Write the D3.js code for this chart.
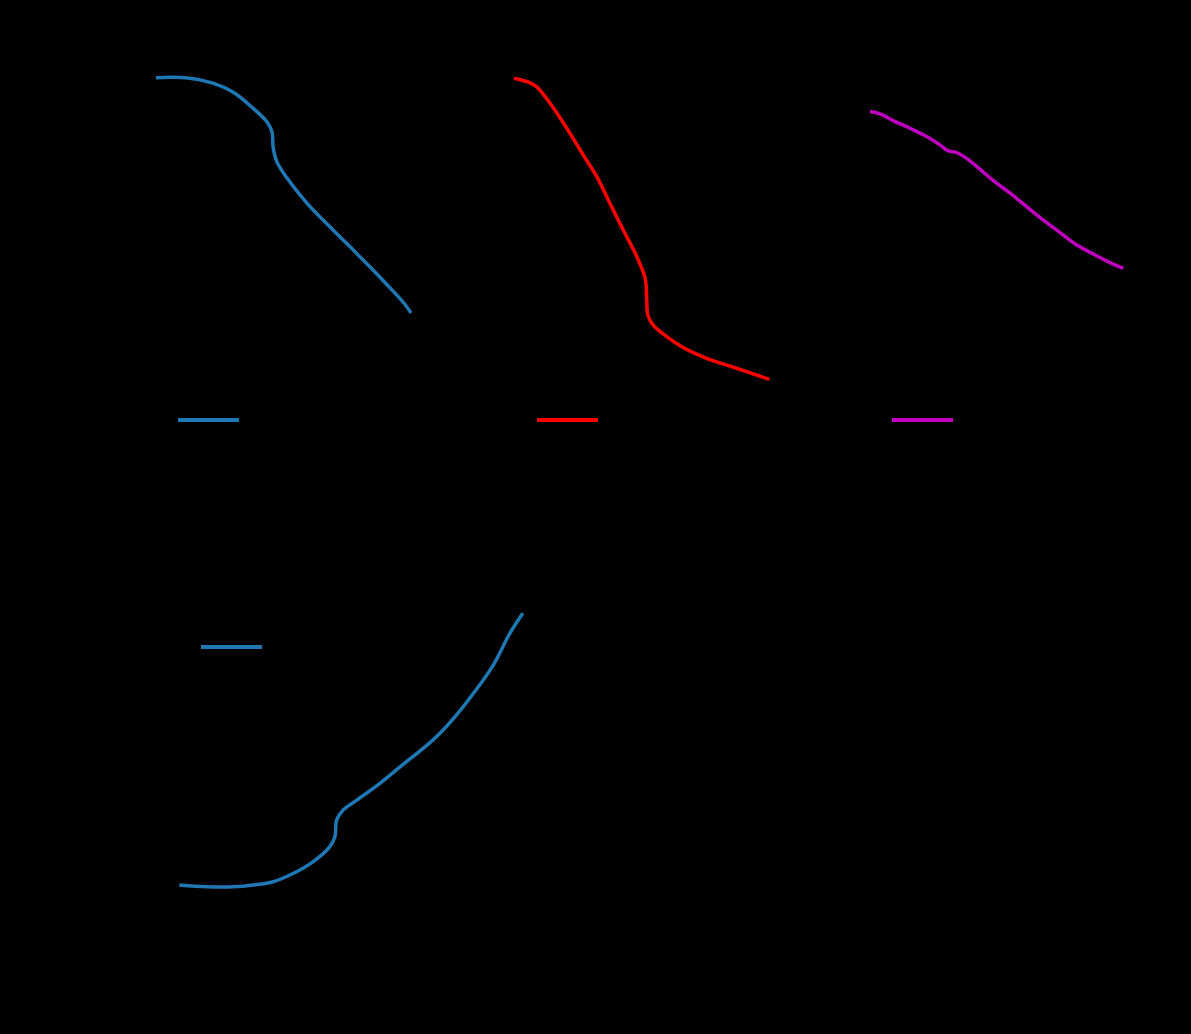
<!DOCTYPE html>
<html>
<head>
<meta charset="utf-8">
<script src="https://cdn.jsdelivr.net/npm/d3@7"></script>
<style>
  html, body { margin: 0; padding: 0; background: #000; }
  svg { display: block; }
</style>
</head>
<body>
<div id="chart"></div>
<script>
// series, x and y in percent of each panel's axis span
const seriesA = [
  [2.2, 97.6], [14.1, 97.5], [23.3, 95.9], [30.7, 93.1], [38.1, 88.1],
  [43.3, 83.8], [45.2, 80.6], [45.6, 75.9], [47.0, 71.3], [50.7, 66.3],
  [58.1, 58.4], [67.8, 50.0], [75.2, 43.8], [82.6, 37.5], [88.9, 31.9],
  [93.7, 27.5], [96.7, 24.1]
];
const seriesB = [
  [3.3, 97.4], [9.3, 96.0], [11.7, 94.8], [16.7, 89.6], [22.9, 81.8],
  [29.0, 73.4], [34.0, 66.7], [38.9, 58.3], [43.8, 50.0], [48.8, 41.7],
  [51.9, 34.9], [52.5, 28.1], [52.9, 23.4], [54.9, 20.3], [59.9, 16.7],
  [66.0, 13.3], [74.7, 9.9], [84.6, 7.1], [97.9, 3.3]
];
const seriesC = [
  [3.7, 87.0], [7.4, 86.3], [12.3, 84.2], [18.5, 81.8], [24.7, 79.2],
  [29.6, 76.6], [32.7, 74.7], [35.8, 74.2], [39.5, 72.4], [44.4, 69.0],
  [49.4, 65.4], [55.6, 61.5], [61.7, 57.3], [67.9, 53.1], [74.1, 49.2],
  [80.3, 45.3], [86.4, 42.5], [92.6, 39.8], [97.5, 38.0]
];
const seriesD = [
  [2.6, 5.0], [10.2, 4.4], [17.6, 4.4], [23.1, 5.0], [28.7, 6.1],
  [34.3, 8.9], [39.8, 12.8], [44.4, 17.8], [45.8, 21.1], [46.3, 26.7],
  [48.1, 30.0], [51.9, 33.3], [58.3, 38.9], [63.9, 44.4], [70.4, 50.6],
  [75.0, 55.6], [79.6, 61.7], [84.3, 68.9], [89.8, 78.3], [94.4, 88.9],
  [98.0, 95.6]
];
const colors = ['#1f77b4', '#ff0000', '#c000c0', '#1f77b4'];
const xDomain = [0, 100];
const yDomain = [0, 100];

const width = 1191, height = 1034;

const svg = d3.select('#chart')
  .append('svg')
  .attr('width', width)
  .attr('height', height)
  .style('background', '#000');

// panel boxes and legend spots
const panels = [
  {data: seriesA, color: colors[0], x: [150, 420], y: [390, 70], legend: [178, 420]},
  {data: seriesB, color: colors[1], x: [505, 775], y: [390, 70], legend: [537, 420]},
  {data: seriesC, color: colors[2], x: [860, 1130], y: [390, 70], legend: [892, 420]},
  {data: seriesD, color: colors[3], x: [170, 530], y: [900, 600], legend: [201, 647]}
];

panels.forEach(p => {
  const x = d3.scaleLinear().domain(xDomain).range(p.x);
  const y = d3.scaleLinear().domain(yDomain).range(p.y);

  const g = svg.append('g');

  // axes are black like the rest of the figure
  g.append('g')
    .attr('transform', `translate(0, ${ p.y[0] + 8 })`)
    .call(d3.axisBottom(x).ticks(5).tickFormat(''))
    .attr('color', '#000');
  g.append('g')
    .attr('transform', `translate(${ p.x[0] - 8 }, 0)`)
    .call(d3.axisLeft(y).ticks(5).tickFormat(''))
    .attr('color', '#000');

  const line = d3.line()
    .x(d => x(d[0]))
    .y(d => y(d[1]))
    .curve(d3.curveCatmullRom.alpha(0.5));

  g.append('path')
    .datum(p.data)
    .attr('d', line)
    .attr('fill', 'none')
    .attr('stroke', p.color)
    .attr('stroke-width', 3.5)
    .attr('stroke-linejoin', 'round');

  // legend swatch
  g.append('line')
    .attr('x1', p.legend[0])
    .attr('x2', p.legend[0] + 61)
    .attr('y1', p.legend[1])
    .attr('y2', p.legend[1])
    .attr('stroke', p.color)
    .attr('stroke-width', 4);
});
</script>
</body>
</html>
